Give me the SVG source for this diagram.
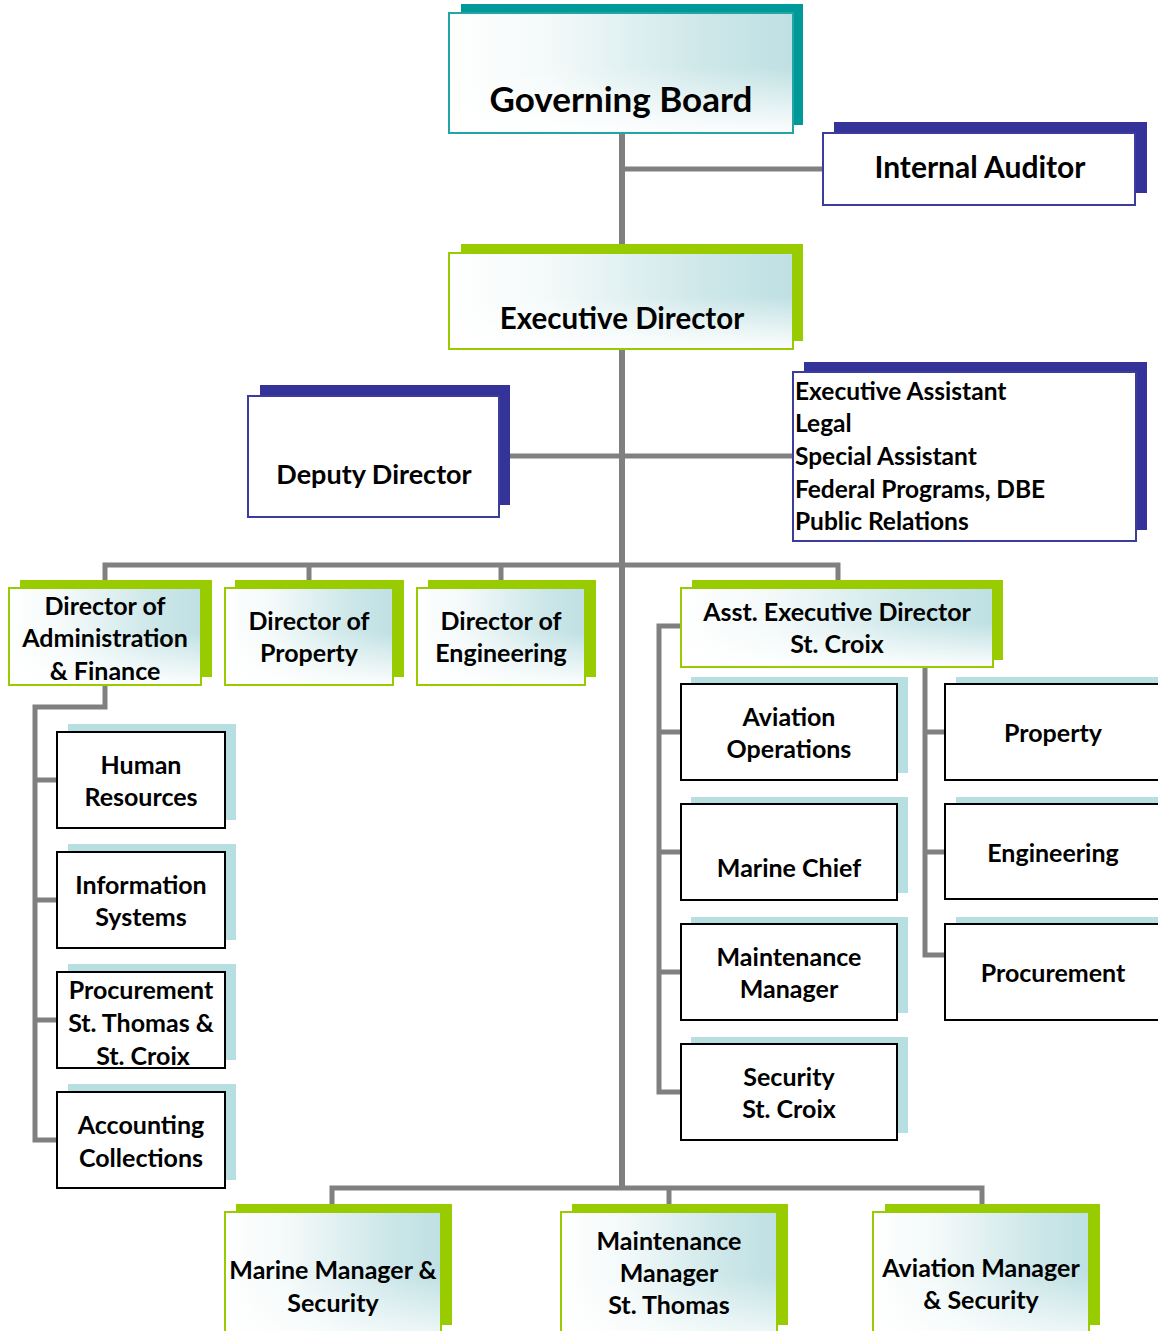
<svg xmlns="http://www.w3.org/2000/svg" width="1158" height="1331" viewBox="0 0 1158 1331">
  <defs>
    <linearGradient id="tintH" x1="0" y1="0" x2="1" y2="0">
      <stop offset="0" stop-color="#ffffff"/>
      <stop offset="0.3" stop-color="#f3f9f9"/>
      <stop offset="0.75" stop-color="#cde7e9"/>
      <stop offset="1" stop-color="#bfe0e3"/>
    </linearGradient>
    <linearGradient id="fadeV" x1="0" y1="0" x2="0" y2="1">
      <stop offset="0.45" stop-color="#ffffff" stop-opacity="0"/>
      <stop offset="1" stop-color="#ffffff" stop-opacity="0.95"/>
    </linearGradient>
    <style>
      .wire { stroke: #808080; stroke-width: 5; fill: none; stroke-linejoin: miter; stroke-linecap: butt; }
      .trunk { stroke-width: 6; }
      .sh-teal { fill: #009999; }
      .sh-green { fill: #99cc00; }
      .sh-navy { fill: #333399; }
      .sh-ice { fill: #b7dfe2; }
      .fr-teal { fill: url(#tintH); stroke: #22a5a5; stroke-width: 2; }
      .fr-green { fill: url(#tintH); stroke: #99cc00; stroke-width: 2; }
      .fr-navy { fill: #ffffff; stroke: #3c3c9c; stroke-width: 2; }
      .fr-black { fill: #ffffff; stroke: #000000; stroke-width: 2; }
      .fade { fill: url(#fadeV); }
      text { font-family: Lato, "Open Sans", sans-serif; font-weight: bold; fill: #000000; text-anchor: middle; }
      .s35 { font-size: 35px; }
      .s30 { font-size: 30px; }
      .s29 { font-size: 29.5px; }
      .s27 { font-size: 27px; }
      .s24 { font-size: 24.5px; }
      .s25 { font-size: 25px; }
      .left { text-anchor: start; }
    </style>
  </defs>

  <!-- connector lines -->
  <g id="connectors">
    <line class="wire trunk" x1="622" y1="133" x2="622" y2="1188"/>
    <line class="wire" x1="622" y1="169" x2="823" y2="169"/>
    <line class="wire" x1="499" y1="456" x2="793" y2="456"/>
    <polyline class="wire" points="105,588 105,565 838,565 838,588"/>
    <line class="wire" x1="309" y1="565" x2="309" y2="588"/>
    <line class="wire" x1="501" y1="565" x2="501" y2="588"/>
    <polyline class="wire" points="105,685 105,707 35,707 35,1140 57,1140"/>
    <line class="wire" x1="35" y1="780" x2="57" y2="780"/>
    <line class="wire" x1="35" y1="900" x2="57" y2="900"/>
    <line class="wire" x1="35" y1="1020" x2="57" y2="1020"/>
    <polyline class="wire" points="681,626 659,626 659,1092 681,1092"/>
    <line class="wire" x1="659" y1="732" x2="681" y2="732"/>
    <line class="wire" x1="659" y1="852" x2="681" y2="852"/>
    <line class="wire" x1="659" y1="972" x2="681" y2="972"/>
    <polyline class="wire" points="925,667 925,955 945,955"/>
    <line class="wire" x1="925" y1="732" x2="945" y2="732"/>
    <line class="wire" x1="925" y1="852" x2="945" y2="852"/>
    <polyline class="wire" points="332,1210 332,1188 982,1188 982,1210"/>
    <line class="wire" x1="669" y1="1188" x2="669" y2="1210"/>
  </g>

  <!-- top of the organisation -->
  <g id="governing-board">
    <rect class="sh-teal" x="461" y="4" width="342" height="121"/>
    <rect class="fr-teal" x="449" y="13" width="344" height="120"/>
    <rect class="fade" x="450" y="14" width="342" height="118"/>
    <text class="s35" x="621" y="112">Governing Board</text>
  </g>

  <g id="internal-auditor">
    <rect class="sh-navy" x="834" y="122" width="313" height="71"/>
    <rect class="fr-navy" x="823" y="133" width="312" height="72"/>
    <text class="s30" x="980" y="178">Internal Auditor</text>
  </g>

  <g id="executive-director">
    <rect class="sh-green" x="461" y="244" width="342" height="97"/>
    <rect class="fr-green" x="449" y="253" width="344" height="96"/>
    <rect class="fade" x="450" y="254" width="342" height="94"/>
    <text class="s29" x="622" y="329">Executive Director</text>
  </g>

  <g id="deputy-director">
    <rect class="sh-navy" x="260" y="385" width="250" height="120"/>
    <rect class="fr-navy" x="248" y="396" width="251" height="121"/>
    <text class="s27" x="374" y="484">Deputy Director</text>
  </g>

  <g id="executive-staff">
    <rect class="sh-navy" x="804" y="362" width="343" height="168"/>
    <rect class="fr-navy" x="793" y="372" width="343" height="169"/>
    <text class="s24 left" x="795" y="400">Executive Assistant</text>
    <text class="s24 left" x="795" y="432">Legal</text>
    <text class="s24 left" x="795" y="465">Special Assistant</text>
    <text class="s24 left" x="795" y="498">Federal Programs, DBE</text>
    <text class="s24 left" x="795" y="530">Public Relations</text>
  </g>

  <!-- directors -->
  <g id="dir-admin-finance">
    <rect class="sh-green" x="20" y="580" width="192" height="97"/>
    <rect class="fr-green" x="9" y="588" width="192" height="97"/>
    <rect class="fade" x="10" y="589" width="190" height="95"/>
    <text class="s25" x="105" y="615">Director of</text>
    <text class="s25" x="105" y="647">Administration</text>
    <text class="s25" x="105" y="680">&amp; Finance</text>
  </g>

  <g id="dir-property">
    <rect class="sh-green" x="235" y="580" width="169" height="97"/>
    <rect class="fr-green" x="225" y="588" width="168" height="97"/>
    <rect class="fade" x="226" y="589" width="166" height="95"/>
    <text class="s25" x="309" y="630">Director of</text>
    <text class="s25" x="309" y="662">Property</text>
  </g>

  <g id="dir-engineering">
    <rect class="sh-green" x="428" y="580" width="168" height="97"/>
    <rect class="fr-green" x="417" y="588" width="168" height="97"/>
    <rect class="fade" x="418" y="589" width="166" height="95"/>
    <text class="s25" x="501" y="630">Director of</text>
    <text class="s25" x="501" y="662">Engineering</text>
  </g>

  <g id="asst-exec-director">
    <rect class="sh-green" x="692" y="580" width="311" height="80"/>
    <rect class="fr-green" x="681" y="588" width="312" height="79"/>
    <rect class="fade" x="682" y="589" width="310" height="77"/>
    <text class="s25" x="837" y="621">Asst. Executive Director</text>
    <text class="s25" x="837" y="653">St. Croix</text>
  </g>

  <!-- administration & finance units -->
  <g id="human-resources">
    <rect class="sh-ice" x="68" y="724" width="168" height="96"/>
    <rect class="fr-black" x="57" y="732" width="168" height="96"/>
    <text class="s25" x="141" y="774">Human</text>
    <text class="s25" x="141" y="806">Resources</text>
  </g>

  <g id="information-systems">
    <rect class="sh-ice" x="68" y="844" width="168" height="96"/>
    <rect class="fr-black" x="57" y="852" width="168" height="96"/>
    <text class="s25" x="141" y="894">Information</text>
    <text class="s25" x="141" y="926">Systems</text>
  </g>

  <g id="procurement-st">
    <rect class="sh-ice" x="68" y="964" width="168" height="96"/>
    <rect class="fr-black" x="57" y="972" width="168" height="96"/>
    <text class="s25" x="141" y="999">Procurement</text>
    <text class="s25" x="141" y="1032">St. Thomas &amp;</text>
    <text class="s25" x="143" y="1065">St. Croix</text>
  </g>

  <g id="accounting">
    <rect class="sh-ice" x="68" y="1084" width="168" height="96"/>
    <rect class="fr-black" x="57" y="1092" width="168" height="96"/>
    <text class="s25" x="141" y="1134">Accounting</text>
    <text class="s25" x="141" y="1167">Collections</text>
  </g>

  <!-- St. Croix units -->
  <g id="aviation-operations">
    <rect class="sh-ice" x="691" y="677" width="217" height="96"/>
    <rect class="fr-black" x="681" y="684" width="216" height="96"/>
    <text class="s25" x="789" y="726">Aviation</text>
    <text class="s25" x="789" y="758">Operations</text>
  </g>

  <g id="marine-chief">
    <rect class="sh-ice" x="691" y="797" width="217" height="96"/>
    <rect class="fr-black" x="681" y="804" width="216" height="96"/>
    <text class="s25" x="789" y="877">Marine Chief</text>
  </g>

  <g id="maintenance-manager-sc">
    <rect class="sh-ice" x="691" y="917" width="217" height="96"/>
    <rect class="fr-black" x="681" y="924" width="216" height="96"/>
    <text class="s25" x="789" y="966">Maintenance</text>
    <text class="s25" x="789" y="998">Manager</text>
  </g>

  <g id="security-sc">
    <rect class="sh-ice" x="691" y="1037" width="217" height="96"/>
    <rect class="fr-black" x="681" y="1044" width="216" height="96"/>
    <text class="s25" x="789" y="1086">Security</text>
    <text class="s25" x="789" y="1118">St. Croix</text>
  </g>

  <g id="property-sc">
    <rect class="sh-ice" x="956" y="677" width="216" height="96"/>
    <rect class="fr-black" x="945" y="684" width="216" height="96"/>
    <text class="s25" x="1053" y="742">Property</text>
  </g>

  <g id="engineering-sc">
    <rect class="sh-ice" x="956" y="797" width="216" height="96"/>
    <rect class="fr-black" x="945" y="804" width="216" height="95"/>
    <text class="s25" x="1053" y="862">Engineering</text>
  </g>

  <g id="procurement-sc">
    <rect class="sh-ice" x="956" y="917" width="216" height="96"/>
    <rect class="fr-black" x="945" y="924" width="216" height="96"/>
    <text class="s25" x="1053" y="982">Procurement</text>
  </g>

  <!-- St. Thomas managers -->
  <g id="marine-manager">
    <rect class="sh-green" x="236" y="1204" width="216" height="121"/>
    <rect class="fr-green" x="225" y="1212" width="216" height="140"/>
    <rect class="fade" x="226" y="1213" width="214" height="138"/>
    <text class="s25" x="333" y="1279">Marine Manager &amp;</text>
    <text class="s25" x="333" y="1312">Security</text>
  </g>

  <g id="maintenance-manager-st">
    <rect class="sh-green" x="572" y="1204" width="216" height="121"/>
    <rect class="fr-green" x="561" y="1212" width="216" height="140"/>
    <rect class="fade" x="562" y="1213" width="214" height="138"/>
    <text class="s25" x="669" y="1250">Maintenance</text>
    <text class="s25" x="669" y="1282">Manager</text>
    <text class="s25" x="669" y="1314">St. Thomas</text>
  </g>

  <g id="aviation-manager">
    <rect class="sh-green" x="885" y="1204" width="215" height="121"/>
    <rect class="fr-green" x="873" y="1212" width="216" height="140"/>
    <rect class="fade" x="874" y="1213" width="214" height="138"/>
    <text class="s25" x="981" y="1277">Aviation Manager</text>
    <text class="s25" x="981" y="1309">&amp; Security</text>
  </g>
</svg>
